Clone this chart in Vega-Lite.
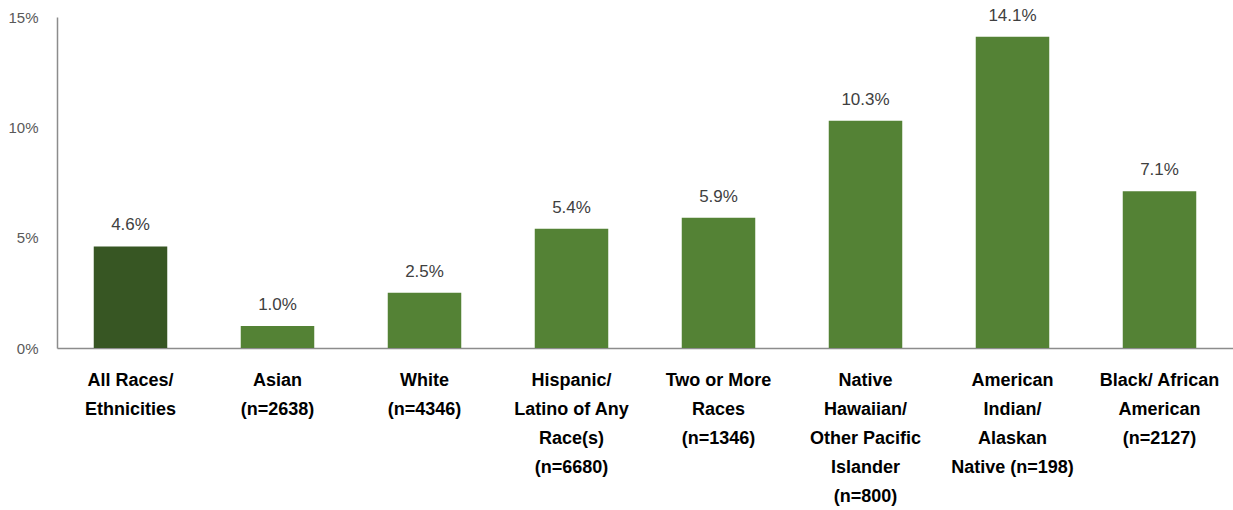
{
  "$schema": "https://vega.github.io/schema/vega-lite/v6.json",
  "autosize": "none",
  "width": 1176,
  "height": 331,
  "padding": {"left": 57, "top": 17, "right": 0, "bottom": 162},
  "background": "white",
  "config": {"view": {"stroke": null}, "font": "Liberation Sans"},
  "data": {
    "values": [
      {"group": "All Races/|Ethnicities", "rate": 0.046, "kind": "overall"},
      {"group": "Asian|(n=2638)", "rate": 0.010, "kind": "subgroup"},
      {"group": "White|(n=4346)", "rate": 0.025, "kind": "subgroup"},
      {"group": "Hispanic/|Latino of Any|Race(s)|(n=6680)", "rate": 0.054, "kind": "subgroup"},
      {"group": "Two or More|Races|(n=1346)", "rate": 0.059, "kind": "subgroup"},
      {"group": "Native|Hawaiian/|Other Pacific|Islander|(n=800)", "rate": 0.103, "kind": "subgroup"},
      {"group": "American|Indian/|Alaskan|Native (n=198)", "rate": 0.141, "kind": "subgroup"},
      {"group": "Black/ African|American|(n=2127)", "rate": 0.071, "kind": "subgroup"}
    ]
  },
  "encoding": {
    "x": {
      "field": "group", "type": "nominal", "sort": null,
      "scale": {"paddingInner": 0.5, "paddingOuter": 0.25},
      "axis": {
        "title": null, "labelAngle": 0, "ticks": false,
        "domainColor": "#8c8c8c", "domainWidth": 1.5,
        "labelExpr": "split(datum.label, '|')",
        "labelFont": "Liberation Sans", "labelFontWeight": "bold",
        "labelFontSize": 18, "labelColor": "#000000",
        "labelLineHeight": 29, "labelPadding": 32, "labelLimit": 0,
        "labelBaseline": "middle"
      }
    },
    "y": {
      "field": "rate", "type": "quantitative",
      "scale": {"domain": [0, 0.15], "nice": false},
      "axis": {
        "title": null, "values": [0, 0.05, 0.1, 0.15], "format": ".0%",
        "grid": false, "ticks": false, "domainColor": "#8c8c8c", "domainWidth": 1.5,
        "labelFontSize": 15, "labelColor": "#595959", "labelPadding": 19
      }
    }
  },
  "layer": [
    {
      "mark": {"type": "bar"},
      "encoding": {
        "color": {
          "field": "kind", "type": "nominal",
          "scale": {"domain": ["overall", "subgroup"], "range": ["#375623", "#548235"]},
          "legend": null
        }
      }
    },
    {
      "mark": {"type": "text", "baseline": "bottom", "dy": -12, "fontSize": 17, "color": "#404040", "font": "Liberation Sans"},
      "encoding": {"text": {"field": "rate", "type": "quantitative", "format": ".1%"}}
    }
  ]
}
